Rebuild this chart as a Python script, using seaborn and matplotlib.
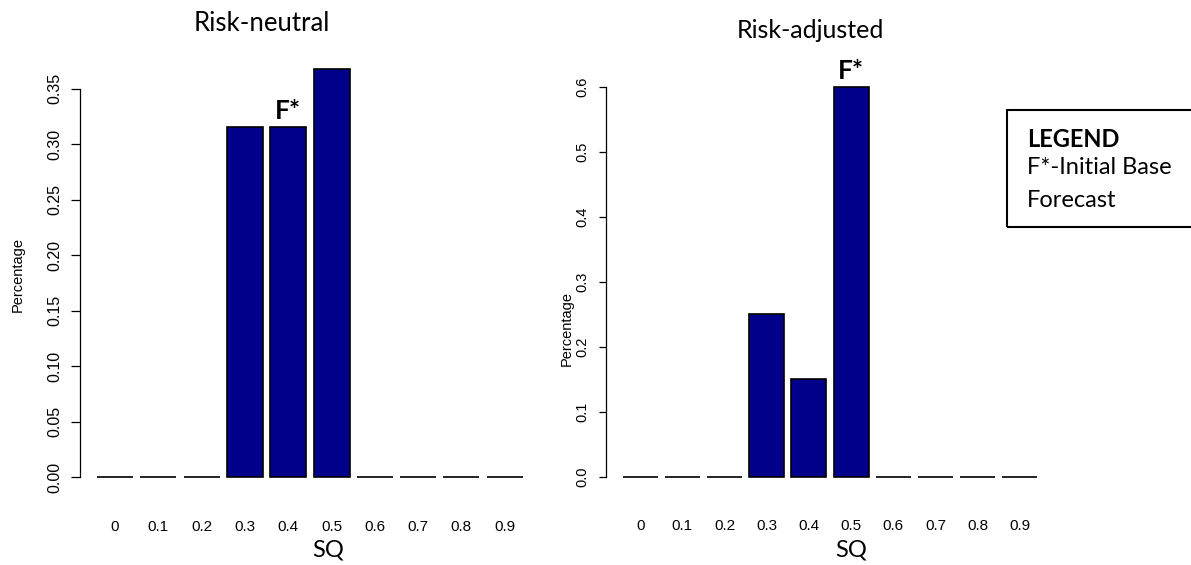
import seaborn as sns
import matplotlib.pyplot as plt
from matplotlib.patches import Rectangle
import pandas as pd

sq_levels = ["0", "0.1", "0.2", "0.3", "0.4", "0.5", "0.6", "0.7", "0.8", "0.9"]
neutral_pct = [0, 0, 0, 0.3158, 0.3158, 0.3684, 0, 0, 0, 0]
adjusted_pct = [0, 0, 0, 0.25, 0.15, 0.60, 0, 0, 0, 0]
neutral_ticks = [0.00, 0.05, 0.10, 0.15, 0.20, 0.25, 0.30, 0.35]
adjusted_ticks = [0.0, 0.1, 0.2, 0.3, 0.4, 0.5, 0.6]
neutral_fstar = "0.4"
adjusted_fstar = "0.5"

W, H = 1191, 565
sns.set_style("white")
plt.rcParams['font.family'] = ['Liberation Sans', 'DejaVu Sans']
plt.rcParams['text.color'] = 'black'
plt.rcParams['axes.labelcolor'] = 'black'
plt.rcParams['xtick.color'] = 'black'
plt.rcParams['ytick.color'] = 'black'
plt.rcParams['axes.edgecolor'] = 'black'

fig = plt.figure(figsize=(W / 100, H / 100), dpi=100)


def px(x0, y0, x1, y1):
    # pixel box (top-left origin) -> figure fraction rect
    return [x0 / W, 1 - y1 / H, (x1 - x0) / W, (y1 - y0) / H]


def panel(rect, values, ticks, fmt, fstar, tick_len, tick_pad, ysize):
    ax = fig.add_axes(rect)
    df = pd.DataFrame({"SQ": sq_levels, "pct": values})
    sns.barplot(data=df, x="SQ", y="pct", order=sq_levels, color="#00008B",
                saturation=1, edgecolor="black", linewidth=1.2,
                width=1 / 1.2, errorbar=None, ax=ax)
    top = max(values)
    ax.set_ylim(-0.04 * top, 1.04 * top)
    ext = 0.04 * (9 + 1 / 1.2)
    ax.set_xlim(-0.5 / 1.2 - ext, 9 + 0.5 / 1.2 + ext)
    for s in ["top", "right", "bottom"]:
        ax.spines[s].set_visible(False)
    ax.spines["left"].set_bounds(ticks[0], ticks[-1])
    ax.spines["left"].set_linewidth(0.9)
    ax.set_yticks(ticks)
    ax.set_yticklabels([fmt.format(t) for t in ticks], rotation=90, va="center",
                       fontsize=ysize)
    ax.tick_params(axis="y", length=tick_len, width=0.9, pad=tick_pad, left=True,
                   direction="out")
    ax.tick_params(axis="x", length=0, pad=19, labelsize=11)
    ax.set_xlabel("")
    ax.set_ylabel("")
    i = sq_levels.index(fstar)
    ax.annotate("F*", (i, values[i]), xytext=(0, 6), textcoords="offset points",
                ha="center", va="baseline", fontsize=19, fontweight="bold",
                family="Lato")
    return ax


panel(px(80, 52.2, 539.8, 493.3), neutral_pct, neutral_ticks, "{:.2f}",
      neutral_fstar, 6.5, 6, 11.5)
panel(px(606, 71.7, 1054, 492.3), adjusted_pct, adjusted_ticks, "{:.1f}",
      adjusted_fstar, 5, 7, 10.5)

# titles and axis labels
fig.text(194 / W, 1 - 30.7 / H, "Risk-neutral", family="Lato", fontsize=18.5,
         ha="left", va="baseline")
fig.text(737 / W, 1 - 37.5 / H, "Risk-adjusted", family="Lato", fontsize=18,
         ha="left", va="baseline")
fig.text(328 / W, 1 - 557 / H, "SQ", family="Lato", fontsize=17,
         ha="center", va="baseline")
fig.text(851 / W, 1 - 557 / H, "SQ", family="Lato", fontsize=17,
         ha="center", va="baseline")
fig.text(18 / W, 1 - 275 / H, "Percentage", rotation=90, fontsize=10.5,
         ha="center", va="center")
fig.text(567 / W, 1 - 328 / H, "Percentage", rotation=90, fontsize=10.5,
         ha="center", va="center")

# legend box (runs off the right edge, as in the original)
fig.patches.append(Rectangle((1007 / W, 1 - 227 / H), (1200 - 1007) / W,
                             (227 - 110) / H, transform=fig.transFigure,
                             fill=False, edgecolor="black", linewidth=1.5))
fig.text(1027 / W, 1 - 147 / H, "LEGEND", family="Lato", fontweight="bold",
         fontsize=17, va="baseline")
fig.text(1027 / W, 1 - 174 / H, "F*-Initial Base", family="Lato",
         fontsize=17, va="baseline")
fig.text(1027 / W, 1 - 207 / H, "Forecast", family="Lato",
         fontsize=17, va="baseline")

fig.savefig("out.png", dpi=100)
